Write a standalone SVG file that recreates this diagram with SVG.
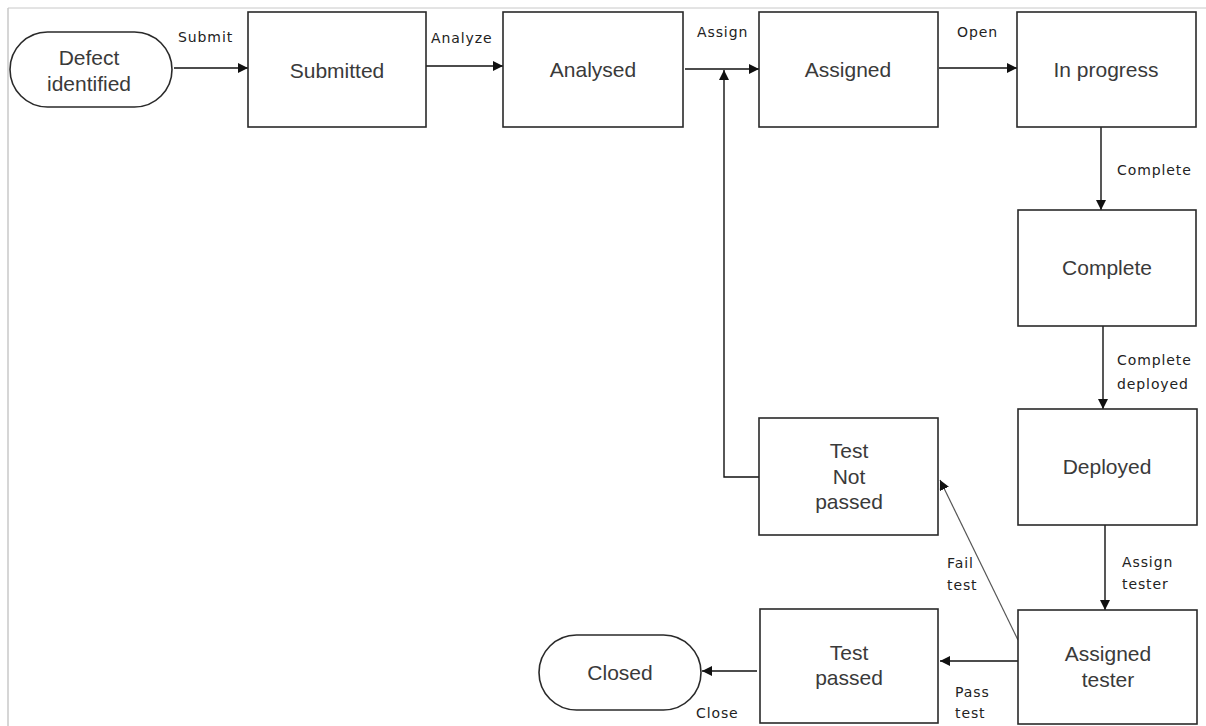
<svg xmlns="http://www.w3.org/2000/svg" width="1206" height="726" viewBox="0 0 1206 726">
  <style>
    .node { fill: #ffffff; stroke: #2a2a2a; stroke-width: 1.6; }
    .lbl { font-family: "Liberation Sans", Arial, sans-serif; font-size: 21px; fill: #3a3a3a; text-anchor: middle; }
    .elbl { font-family: "DejaVu Sans", "Liberation Sans", sans-serif; font-size: 14px; fill: #222222; letter-spacing: 0.9px; }
    .edge { fill: none; stroke: #111111; stroke-width: 1.4; }
    .thin { fill: none; stroke: #555555; stroke-width: 1.2; }
  </style>
  <defs>
    <marker id="arrow" viewBox="0 0 10 10" refX="10" refY="5" markerWidth="10" markerHeight="10" markerUnits="userSpaceOnUse" orient="auto">
      <path d="M0,0 L10,5 L0,10 z" fill="#111111"/>
    </marker>
  </defs>

  <rect x="0" y="0" width="1206" height="726" fill="#ffffff"/>
  <!-- frame lines -->
  <line x1="8" y1="8" x2="1206" y2="8" stroke="#c8c8c8" stroke-width="1"/>
  <line x1="8" y1="8" x2="8" y2="726" stroke="#c8c8c8" stroke-width="1.5"/>

  <g id="connectors">
    <line class="edge" x1="174" y1="68" x2="248" y2="68" marker-end="url(#arrow)"/>
    <line class="edge" x1="424" y1="66" x2="503" y2="66" marker-end="url(#arrow)"/>
    <line class="edge" x1="685" y1="69" x2="759" y2="69" marker-end="url(#arrow)"/>
    <line class="edge" x1="939" y1="68" x2="1017" y2="68" marker-end="url(#arrow)"/>
    <line class="edge" x1="1101" y1="127" x2="1101" y2="210" marker-end="url(#arrow)"/>
    <line class="edge" x1="1103" y1="326" x2="1103" y2="409" marker-end="url(#arrow)"/>
    <line class="edge" x1="1105" y1="525" x2="1105" y2="610" marker-end="url(#arrow)"/>
    <polyline class="edge" points="759,477 724,477 724,70" marker-end="url(#arrow)"/>
    <line class="thin" x1="1018" y1="640" x2="940" y2="480" marker-end="url(#arrow)"/>
    <line class="edge" x1="1018" y1="661" x2="940" y2="661" marker-end="url(#arrow)"/>
    <line class="edge" x1="757" y1="671" x2="702" y2="671" marker-end="url(#arrow)"/>

    <text class="elbl" x="178" y="42">Submit</text>
    <text class="elbl" x="431" y="43">Analyze</text>
    <text class="elbl" x="697" y="37">Assign</text>
    <text class="elbl" x="957" y="37">Open</text>
    <text class="elbl" x="1117" y="175">Complete</text>
    <text class="elbl" x="1117" y="365">Complete</text>
    <text class="elbl" x="1117" y="389">deployed</text>
    <text class="elbl" x="1122" y="567">Assign</text>
    <text class="elbl" x="1122" y="589">tester</text>
    <text class="elbl" x="947" y="568">Fail</text>
    <text class="elbl" x="947" y="590">test</text>
    <text class="elbl" x="955" y="697">Pass</text>
    <text class="elbl" x="955" y="718">test</text>
    <text class="elbl" x="696" y="718">Close</text>
  </g>

  <g id="defect-identified">
    <rect class="node" x="10" y="32" width="162" height="75" rx="37.5" ry="37.5"/>
    <text class="lbl" x="89" y="65">Defect</text>
    <text class="lbl" x="89" y="91">identified</text>
  </g>
  <g id="submitted">
    <rect class="node" x="248" y="12" width="178" height="115"/>
    <text class="lbl" x="337" y="78">Submitted</text>
  </g>
  <g id="analysed">
    <rect class="node" x="503" y="12" width="180" height="115"/>
    <text class="lbl" x="593" y="77">Analysed</text>
  </g>
  <g id="assigned">
    <rect class="node" x="759" y="12" width="179" height="115"/>
    <text class="lbl" x="848" y="77">Assigned</text>
  </g>
  <g id="in-progress">
    <rect class="node" x="1017" y="12" width="179" height="115"/>
    <text class="lbl" x="1106" y="77">In progress</text>
  </g>
  <g id="complete">
    <rect class="node" x="1018" y="210" width="178" height="116"/>
    <text class="lbl" x="1107" y="275">Complete</text>
  </g>
  <g id="deployed">
    <rect class="node" x="1018" y="409" width="179" height="116"/>
    <text class="lbl" x="1107" y="474">Deployed</text>
  </g>
  <g id="assigned-tester">
    <rect class="node" x="1018" y="610" width="179" height="114"/>
    <text class="lbl" x="1108" y="661">Assigned</text>
    <text class="lbl" x="1108" y="687">tester</text>
  </g>
  <g id="test-not-passed">
    <rect class="node" x="759" y="418" width="179" height="117"/>
    <text class="lbl" x="849" y="458">Test</text>
    <text class="lbl" x="849" y="484">Not</text>
    <text class="lbl" x="849" y="509">passed</text>
  </g>
  <g id="test-passed">
    <rect class="node" x="760" y="609" width="178" height="114"/>
    <text class="lbl" x="849" y="660">Test</text>
    <text class="lbl" x="849" y="685">passed</text>
  </g>
  <g id="closed">
    <rect class="node" x="539" y="635" width="162" height="75" rx="37.5" ry="37.5"/>
    <text class="lbl" x="620" y="680">Closed</text>
  </g>
</svg>
